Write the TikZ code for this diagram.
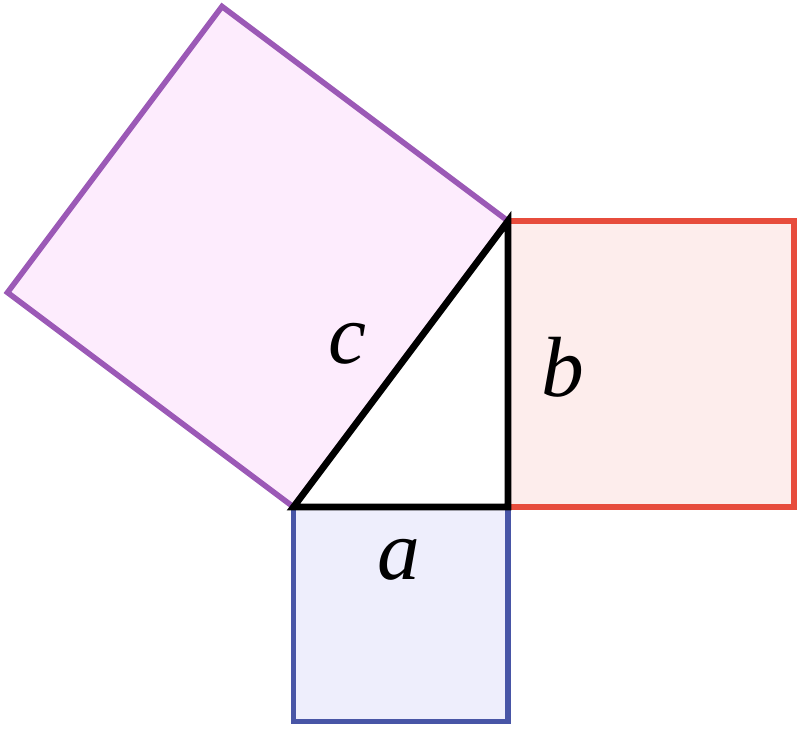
\documentclass[tikz,border=0pt]{standalone}
\usepackage{fontspec}
\setmainfont{Liberation Serif}
\usepackage{xcolor}
\usepackage{tikz}
\usetikzlibrary{positioning}
\pgfdeclarelayer{nodelayer}
\pgfdeclarelayer{edgelayer}
\pgfsetlayers{edgelayer,nodelayer,main}
\definecolor{sqapurple}{RGB}{155,89,182}
\definecolor{sqafill}{RGB}{253,236,253}
\definecolor{sqbred}{RGB}{231,76,60}
\definecolor{sqbfill}{RGB}{253,237,236}
\definecolor{sqcblue}{RGB}{72,85,166}
\definecolor{sqcfill}{RGB}{238,238,252}
\tikzset{
  side/.style={line width=2.7pt, line join=miter},
  sqline/.style={line width=2.2pt, line join=miter},
  lbl/.style={font=\fontsize{34}{40}\selectfont\itshape, inner sep=0pt}
}

\begin{document}
\begin{tikzpicture}
  \useasboundingbox (-7.105, -3.105) rectangle (4.084, 7.091);
  \begin{pgfonlayer}{nodelayer}
    \coordinate (0) at (0, 0);
    \coordinate (1) at (-3, 0);
    \coordinate (2) at (0, 4);
    \coordinate (3) at (-3, -3);
    \coordinate (4) at (0, -3);
    \coordinate (5) at (4, 4);
    \coordinate (6) at (4, 0);
    \coordinate (7) at (-7, 3);
    \coordinate (8) at (-4, 7);
    \draw [side, fill=white] (1) -- (0) -- (2) -- cycle;
    \node [lbl] (9) at (-2.252, 2.280) {c};
    \node [lbl] (10) at (0.769, 1.958) {b};
    \node [lbl] (11) at (-1.524, -0.741) {a};
  \end{pgfonlayer}
  \begin{pgfonlayer}{edgelayer}
    \draw [sqline, draw=sqapurple, fill=sqafill] (1) -- (7) -- (8) -- (2);
    \draw [sqline, draw=sqbred, fill=sqbfill] (2) -- (5) -- (6) -- (0);
    \draw [sqline, draw=sqcblue, fill=sqcfill] (1) -- (3) -- (4) -- (0);
  \end{pgfonlayer}
\end{tikzpicture}
\end{document}
